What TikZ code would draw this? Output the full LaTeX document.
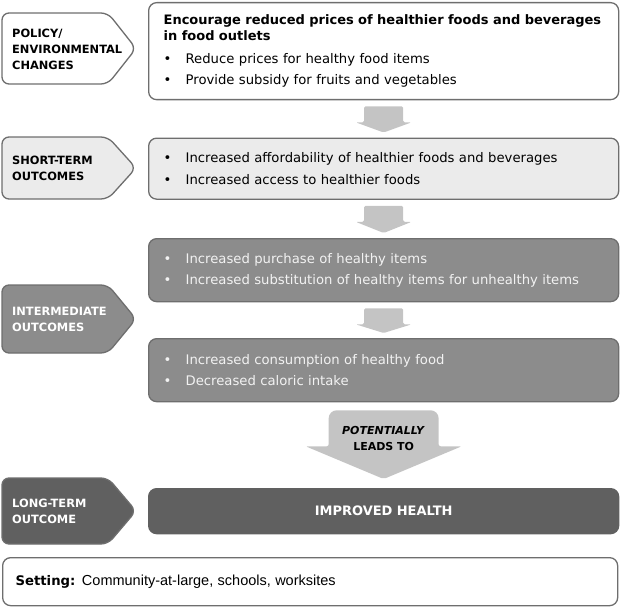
\documentclass[tikz,border=0pt]{standalone}
\usepackage{fontspec}
\setmainfont{DejaVu Sans}
\newfontfamily\arialfont{Liberation Sans}
\usepackage{xcolor}
\usepackage{tikz}
\usetikzlibrary{positioning, calc}

\definecolor{lineg}{HTML}{6E6E6E}
\definecolor{lightg}{HTML}{EBEBEB}
\definecolor{midg}{HTML}{8C8C8C}
\definecolor{darkg}{HTML}{606060}
\definecolor{arrg}{HTML}{C4C4C4}

\newcommand{\bul}{\makebox[22pt][l]{\textbullet}}

\begin{document}
\begin{tikzpicture}[
  x=1pt, y=-1pt,
  font=\fontsize{13.2}{21.5}\selectfont,
  L/.style={draw=lineg, line width=1.3pt, rounded corners=8pt, anchor=north west,
            text width=440pt, inner xsep=15pt, inner ysep=0pt, align=left},
  tag/.style={draw=lineg, line width=1.3pt, rounded corners=7pt},
  tagtxt/.style={anchor=west, align=left, inner sep=0pt,
                 font=\fontsize{11.4}{16}\selectfont\bfseries},
  blk/.style={fill=arrg, rounded corners=1.5pt},
  hd/.style={font=\fontsize{13}{16}\selectfont\bfseries}
]
\useasboundingbox (0,0) rectangle (620,607);

% stage tags on the left
\path[tag, fill=white] (2,13) -- (108,13) -- (136,48.5) -- (108,84) -- (2,84) -- cycle;
\path[tag, fill=lightg] (2,137) -- (108,137) -- (136,168) -- (108,199) -- (2,199) -- cycle;
\path[tag, fill=midg] (2,285) -- (108,285) -- (136,319) -- (108,353) -- (2,353) -- cycle;
\path[tag, fill=darkg] (2,478) -- (108,478) -- (136,511) -- (108,544) -- (2,544) -- cycle;

\node[tagtxt] (policy) at (12,49) {POLICY/\\ENVIRONMENTAL\\CHANGES};
\node[tagtxt] (short) at (12,168) {SHORT-TERM\\OUTCOMES};
\node[tagtxt, text=white] (inter) at (12,319) {INTERMEDIATE\\OUTCOMES};
\node[tagtxt, text=white] (long) at (12,511) {LONG-TERM\\OUTCOME};

% outcome boxes
\node[L, fill=white, minimum height=97pt] (b1) at (148,2)
  {{\fontsize{13}{16}\selectfont\bfseries
    \mbox{Encourage reduced prices of healthier foods and beverages}\\
    in food outlets\\[1pt]}
   \bul Reduce prices for healthy food items\\
   \bul Provide subsidy for fruits and vegetables};
\node[L, fill=lightg, minimum height=61pt] (b2) at (148,137.5)
  {\bul Increased affordability of healthier foods and beverages\\
   \bul Increased access to healthier foods};
\node[L, fill=midg, text=white!95!black, minimum height=63pt] (b3) at (148,238)
  {\bul Increased purchase of healthy items\\
   \bul Increased substitution of healthy items for unhealthy items};
\node[L, fill=midg, text=white!95!black, minimum height=63pt] (b4) at (148,338)
  {\bul Increased consumption of healthy food\\
   \bul Decreased caloric intake};
\node[L, draw=darkg, fill=darkg, text=white, align=center, minimum height=45pt,
      font=\fontsize{13}{16}\selectfont\bfseries] (b5) at (148,488) {IMPROVED HEALTH};

% block arrows
\foreach \a/\b in {b1/b2, b2/b3, b3/b4}
  \fill[blk] ($(\a.south)+(-19.5,6)$) -- ($(\a.south)+(19.5,6)$) -- ($(\a.south)+(19.5,22)$)
    -- ($(\a.south)+(28,22)$) -- ($(\b.north)+(0,-5)$) -- ($(\a.south)+(-28,22)$)
    -- ($(\a.south)+(-19.5,22)$) -- cycle;

\fill[blk] ($(b4.south)+(0,8)$) [rounded corners=8pt] -- ($(b4.south)+(55,8)$)
  [rounded corners=2pt] -- ($(b4.south)+(55,44)$) -- ($(b4.south)+(78,44)$)
  -- ($(b5.north)+(0,-9)$) -- ($(b4.south)+(-78,44)$) -- ($(b4.south)+(-55,44)$)
  [rounded corners=8pt] -- ($(b4.south)+(-55,8)$) -- cycle;
\node[align=center, inner sep=0pt, font=\fontsize{11}{16}\selectfont\bfseries] (leads)
  at ($(b4.south)+(0,36)$) {\textit{POTENTIALLY}\\LEADS TO};

% setting
\node[L, fill=white, text width=589pt, inner xsep=13pt, minimum height=48pt] (setting) at (2,557)
  {{\bfseries Setting:} {\arialfont\fontsize{14.5}{18}\selectfont Community-at-large, schools, worksites}};
\end{tikzpicture}
\end{document}
